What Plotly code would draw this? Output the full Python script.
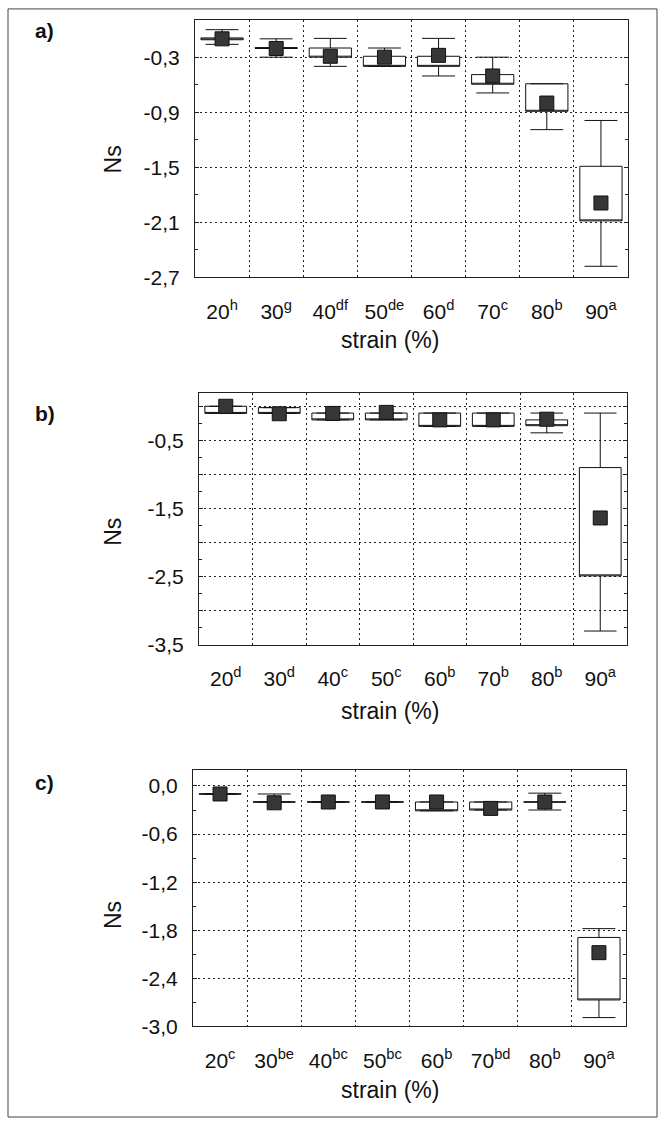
import plotly.graph_objects as go

# ---------------- data ----------------
strain = ["20", "30", "40", "50", "60", "70", "80", "90"]
a_letters = ["h", "g", "df", "de", "d", "c", "b", "a"]
b_letters = ["d", "d", "c", "c", "b", "b", "b", "a"]
c_letters = ["c", "be", "bc", "bc", "b", "bd", "b", "a"]

# panel a)
a_mean = [-0.10, -0.205, -0.29, -0.30, -0.28, -0.505, -0.80, -1.89]
a_q3 = [-0.09, -0.195, -0.20, -0.29, -0.29, -0.49, -0.59, -1.49]
a_q1 = [-0.11, -0.205, -0.30, -0.40, -0.40, -0.595, -0.89, -2.085]
a_hi = [0.0, -0.10, -0.095, -0.20, -0.095, -0.30, -0.59, -0.99]
a_lo = [-0.16, -0.30, -0.40, -0.40, -0.505, -0.69, -1.09, -2.58]
a_ticks = [-0.3, -0.9, -1.5, -2.1, -2.7]

# panel b)
b_mean = [0.0, -0.11, -0.105, -0.09, -0.20, -0.20, -0.19, -1.64]
b_q3 = [0.0, -0.02, -0.10, -0.10, -0.10, -0.10, -0.20, -0.90]
b_q1 = [-0.105, -0.105, -0.20, -0.20, -0.295, -0.295, -0.285, -2.49]
b_hi = [0.0, -0.02, -0.10, -0.10, -0.10, -0.10, -0.10, -0.10]
b_lo = [-0.105, -0.105, -0.20, -0.20, -0.295, -0.295, -0.39, -3.30]
b_grid = [0.0, -0.5, -1.0, -1.5, -2.0, -2.5, -3.0, -3.5]
b_labelled = [-0.5, -1.5, -2.5, -3.5]

# panel c)
c_mean = [-0.10, -0.21, -0.20, -0.20, -0.20, -0.28, -0.20, -2.08]
c_q3 = [-0.10, -0.20, -0.20, -0.20, -0.20, -0.20, -0.20, -1.89]
c_q1 = [-0.10, -0.20, -0.20, -0.20, -0.31, -0.30, -0.20, -2.67]
c_hi = [-0.10, -0.10, -0.20, -0.20, -0.20, -0.20, -0.09, -1.78]
c_lo = [-0.10, -0.20, -0.20, -0.20, -0.31, -0.30, -0.30, -2.89]
c_ticks = [0.0, -0.6, -1.2, -1.8, -2.4, -3.0]

# ---------------- layout helpers ----------------
W, H = 665, 1130
FONT = "Liberation Sans Narrow, Arial Narrow, Liberation Sans, Arial, sans-serif"
LBL = "Liberation Sans, Arial, sans-serif"
pos = list(range(len(strain)))


def fmt(v):
    return f"{v:.1f}".replace(".", ",")


def px_x(p):
    return p / W


def px_y(p):
    return 1 - p / H


def halves(vals):
    s = sorted(vals)
    return [(s[k] + s[k + 1]) / 2 for k in range(len(s) - 1)]


panels = [
    dict(mean=a_mean, q1=a_q1, q3=a_q3, hi=a_hi, lo=a_lo, letters=a_letters,
         rng=[-2.7, 0.1], tickvals=a_ticks, ticktext=[fmt(v) for v in a_ticks],
         xd=[195, 628], yd=[20.7, 280], tag="a)", tag_y=31, ns_y=161, st_y=343),
    dict(mean=b_mean, q1=b_q1, q3=b_q3, hi=b_hi, lo=b_lo, letters=b_letters,
         rng=[-3.5, 0.2], tickvals=b_grid,
         ticktext=[fmt(v) if v in b_labelled else "" for v in b_grid],
         xd=[199, 627], yd=[396.5, 651], tag="b)", tag_y=418, ns_y=537, st_y=718),
    dict(mean=c_mean, q1=c_q1, q3=c_q3, hi=c_hi, lo=c_lo, letters=c_letters,
         rng=[-3.0, 0.2], tickvals=c_ticks, ticktext=[fmt(v) for v in c_ticks],
         xd=[193, 626], yd=[777.5, 1036.5], tag="c)", tag_y=790, ns_y=924, st_y=1101),
]

fig = go.Figure()
layout = dict(
    width=W, height=H, margin=dict(l=0, r=0, t=0, b=0),
    paper_bgcolor="white", plot_bgcolor="white", showlegend=False,
    font=dict(family=FONT, color="#111"),
)
annotations = []
GRID = "#222"

for i, p in enumerate(panels):
    sfx = "" if i == 0 else str(i + 1)
    xref, yref = "x" + sfx, "y" + sfx
    fig.add_trace(go.Box(
        x=pos, q1=p["q1"], median=p["q1"], q3=p["q3"],
        lowerfence=p["lo"], upperfence=p["hi"],
        xaxis=xref, yaxis=yref, boxpoints=False,
        fillcolor="white", line=dict(color="#111", width=1),
        width=0.78, whiskerwidth=0.78, hoverinfo="skip",
    ))
    fig.add_trace(go.Scatter(
        x=pos, y=p["mean"], mode="markers", xaxis=xref, yaxis=yref,
        marker=dict(symbol="square", size=14, color="#363636",
                    line=dict(color="#111", width=1)),
        hoverinfo="skip",
    ))
    layout["xaxis" + sfx] = dict(
        domain=[px_x(p["xd"][0]), px_x(p["xd"][1])], anchor=yref,
        range=[-0.5, len(strain) - 0.5],
        tickvals=pos,
        ticktext=[f"{s}<sup>{l}</sup>" for s, l in zip(strain, p["letters"])],
        tickfont=dict(size=21, family=FONT), ticks="", ticklabelstandoff=15,
        showgrid=False, zeroline=False,
        showline=True, mirror=True, linecolor="#222", linewidth=1.2,
        minor=dict(tickvals=[k + 0.5 for k in pos[:-1]], showgrid=True,
                   gridcolor=GRID, gridwidth=1, griddash="2px,3px", ticks=""),
    )
    layout["yaxis" + sfx] = dict(
        domain=[px_y(p["yd"][1]), px_y(p["yd"][0])], anchor=xref,
        range=p["rng"], tickvals=p["tickvals"], ticktext=p["ticktext"],
        tickfont=dict(size=21, family=FONT),
        ticks="inside", ticklen=4, tickcolor="#222", ticklabelstandoff=10,
        showgrid=True, gridcolor=GRID, gridwidth=1, griddash="2px,3px",
        zeroline=False, showline=True, mirror="allticks", linecolor="#222",
        linewidth=1.2,
        minor=dict(tickvals=halves(p["tickvals"]), ticks="inside", ticklen=3,
                   tickcolor="#222", showgrid=False),
    )
    annotations.append(dict(
        text=f"<b>{p['tag']}</b>", xref="paper", yref="paper",
        x=px_x(33), y=px_y(p["tag_y"]), xanchor="left", yanchor="middle",
        showarrow=False, font=dict(size=21, family=FONT, color="#111"),
    ))
    annotations.append(dict(
        text="Ns", xref="paper", yref="paper", textangle=-90,
        x=px_x(113), y=px_y(p["ns_y"]), xanchor="center", yanchor="middle",
        showarrow=False, font=dict(size=23, family=LBL, color="#111"),
    ))
    annotations.append(dict(
        text="strain (%)", xref="paper", yref="paper",
        x=px_x(390), y=px_y(p["st_y"]), xanchor="center", yanchor="middle",
        showarrow=False, font=dict(size=23, family=LBL, color="#111"),
    ))

layout["annotations"] = annotations
layout["shapes"] = [dict(
    type="rect", xref="paper", yref="paper",
    x0=px_x(8), x1=px_x(657), y0=px_y(1128), y1=px_y(9),
    line=dict(color="#444", width=1), fillcolor="rgba(0,0,0,0)",
)]
fig.update_layout(**layout)
fig.write_html("out.html")
